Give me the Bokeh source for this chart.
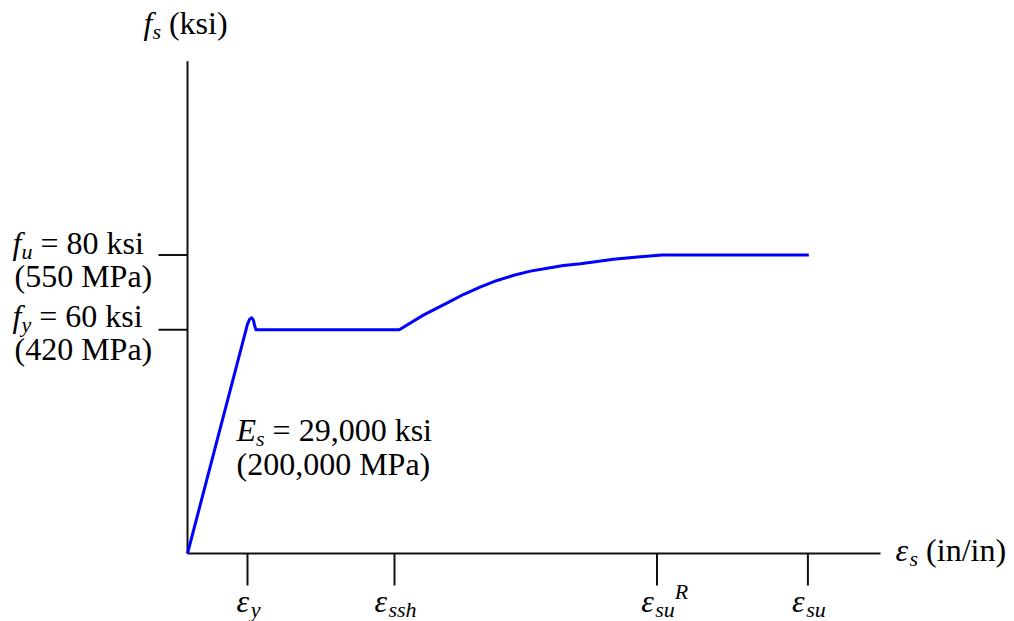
from bokeh.plotting import figure
from bokeh.models import Range1d
from bokeh.core.properties import value
from bokeh.embed import file_html
from bokeh.resources import INLINE

# ---------------- data (schematic stress-strain curve) ----------------
strain = [0.0, 0.00200, 0.00207, 0.00214, 0.00220, 0.00224, 0.00228,
          0.00706, 0.00786, 0.00866, 0.00921, 0.00977, 0.01032, 0.01088,
          0.01143, 0.01199, 0.01253, 0.01310, 0.01365, 0.01420, 0.01500,
          0.01582, 0.02071]
stress = [0.0, 61.5, 62.8, 63.2, 62.5, 61.0, 60.0,
          60.0, 63.9, 67.2, 69.5, 71.5, 73.2, 74.6,
          75.7, 76.5, 77.2, 77.7, 78.3, 78.9, 79.5,
          80.0, 80.0]

x_tick_values = [0.0020, 0.0069, 0.01565, 0.02068]          # eps_y, eps_ssh, eps_su^R, eps_su
x_tick_subs = ["y", "ssh", "su", "su"]
x_tick_sups = ["", "", "R", ""]
y_tick_values = [80, 60]                                     # f_u, f_y (ksi)
y_tick_subs = ["u", "y"]
y_tick_main = [" = 80 ksi", " = 60 ksi"]
y_tick_mpa = ["(550 MPa)", "(420 MPa)"]
x_axis_end = 0.0231
y_axis_top = 132.0

# ---------------- scales ----------------
PX_X = 30000.0   # px per unit strain
PX_Y = 3.73      # px per ksi
ORIGIN_PX = (187, 553)
W, H = 1014, 621

p = figure(width=W, height=H,
           x_range=Range1d(-ORIGIN_PX[0] / PX_X, (W - ORIGIN_PX[0]) / PX_X),
           y_range=Range1d(-(H - ORIGIN_PX[1]) / PX_Y, ORIGIN_PX[1] / PX_Y),
           output_backend="svg", toolbar_location=None,
           x_axis_type=None, y_axis_type=None, min_border=0)
p.outline_line_color = None
p.background_fill_color = "white"
p.border_fill_color = "white"

AX = "#111111"
# axes
p.segment(x0=[0, 0], y0=[0, 0], x1=[0, x_axis_end], y1=[y_axis_top, 0],
          line_color=AX, line_width=2)
# ticks
ytl = 29 / PX_X
p.segment(x0=[-ytl] * len(y_tick_values), y0=y_tick_values,
          x1=[0] * len(y_tick_values), y1=y_tick_values, line_color=AX, line_width=2)
xtl = 32 / PX_Y
p.segment(x0=x_tick_values, y0=[0] * 4, x1=x_tick_values, y1=[-xtl] * 4,
          line_color=AX, line_width=2)

# curve
p.line(strain, stress, line_color="#0000FF", line_width=3, line_join="round")

# ---------------- rich text helper ----------------
REG = {' ': 250, '(': 333, ')': 333, '=': 564, ',': 250, 'k': 500, 's': 389,
       'i': 278, 'M': 889, 'P': 556, 'a': 444, 'n': 500, '/': 278}
for d in "0123456789":
    REG[d] = 500
ITA = {'f': 278, 's': 389, 'u': 500, 'y': 444, 'E': 611, 'R': 611, 'h': 500,
       'ε': 439, ' ': 250}
FONT = "Liberation Serif"
BIG, SMALL = 32, 22
BASE_FIX = 0.34   # renderer baseline correction (fraction of font size)


def width(t, italic, size):
    tab = ITA if italic else REG
    return sum(tab.get(c, 500) for c in t) * size / 1000.0


def rich(x, y, dx, dy, segs, align="left"):
    """segs: list of (text, italic, size, baseline_shift_px)"""
    total = sum(width(t, it, sz) for t, it, sz, _ in segs)
    cx = dx - (total / 2 if align == "center" else 0)
    for t, it, sz, sh in segs:
        lead = len(t) - len(t.lstrip(" "))
        cx += width(" " * lead, it, sz)
        core = t.strip(" ")
        p.text(x=[x], y=[y], text=[core], x_offset=cx,
               y_offset=dy + sh - BASE_FIX * sz,
               text_font=value(FONT), text_font_size=value(f"{sz}px"),
               text_font_style=value("italic" if it else "normal"),
               text_color="black", text_baseline="alphabetic", text_align="left")
        cx += width(t.lstrip(" "), it, sz)


# y axis title
rich(0, y_axis_top, -44, -27, [("f", True, BIG, 0), ("s", True, SMALL, 5),
                               (" (ksi)", False, BIG, 0)])
# x axis title
rich(x_axis_end, 0, 15, 7, [("ε", True, BIG, 0), ("s", True, SMALL, 5),
                            (" (in/in)", False, BIG, 0)])
# y tick labels
for v, sub, main, mpa, d1, d2 in zip(y_tick_values, y_tick_subs, y_tick_main,
                                     y_tick_mpa, [-1, -3], [32, 30]):
    rich(0, v, -175, d1, [("f", True, BIG, 0), (sub, True, SMALL, 5),
                          (main, False, BIG, 0)])
    rich(0, v, -173, d2, [(mpa, False, BIG, 0)])
# x tick labels
for v, sub, sup in zip(x_tick_values, x_tick_subs, x_tick_sups):
    rich(v, 0, 1, 58, [("ε", True, BIG, 0), (sub, True, SMALL, 5)], align="center")
    if sup:
        base_w = width("ε", True, BIG) + width(sub, True, SMALL)
        rich(v, 0, base_w / 2 + 1, 45, [(sup, True, SMALL, 0)])
# modulus annotation
rich(0, 0, 49, -113, [("E", True, BIG, 0), ("s", True, SMALL, 5),
                      (" = 29,000 ksi", False, BIG, 0)])
rich(0, 0, 49, -79, [("(200,000 MPa)", False, BIG, 0)])

open("out.html", "w").write(file_html(p, INLINE))
